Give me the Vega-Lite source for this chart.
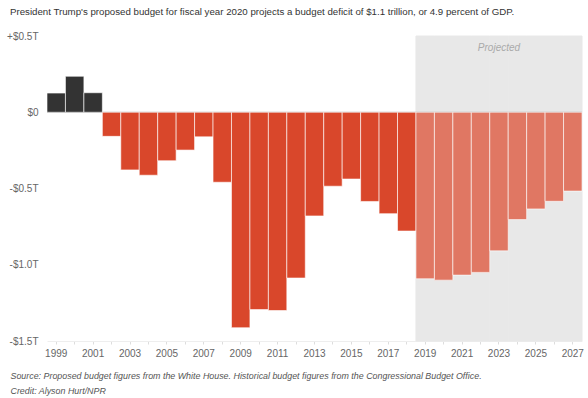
{
  "$schema": "https://vega.github.io/schema/vega-lite/v6.json",
  "width": 535,
  "height": 305,
  "autosize": {"type": "none"},
  "padding": {"left": 47, "top": 36, "right": 6, "bottom": 57},
  "background": "white",
  "config": {"font": "Liberation Sans", "view": {"stroke": null}},
  "title": {
    "text": "President Trump's proposed budget for fiscal year 2020 projects a budget deficit of $1.1 trillion, or 4.9 percent of GDP.",
    "anchor": "start",
    "frame": "group",
    "dx": -37,
    "offset": 6,
    "baseline": "alphabetic",
    "fontSize": 9.7,
    "fontWeight": "normal",
    "color": "#333333"
  },
  "data": {
    "values": [
      {"year": 1999, "value": 0.126, "type": "surplus"},
      {"year": 2000, "value": 0.236, "type": "surplus"},
      {"year": 2001, "value": 0.128, "type": "surplus"},
      {"year": 2002, "value": -0.158, "type": "deficit"},
      {"year": 2003, "value": -0.378, "type": "deficit"},
      {"year": 2004, "value": -0.413, "type": "deficit"},
      {"year": 2005, "value": -0.318, "type": "deficit"},
      {"year": 2006, "value": -0.248, "type": "deficit"},
      {"year": 2007, "value": -0.161, "type": "deficit"},
      {"year": 2008, "value": -0.459, "type": "deficit"},
      {"year": 2009, "value": -1.413, "type": "deficit"},
      {"year": 2010, "value": -1.294, "type": "deficit"},
      {"year": 2011, "value": -1.300, "type": "deficit"},
      {"year": 2012, "value": -1.087, "type": "deficit"},
      {"year": 2013, "value": -0.680, "type": "deficit"},
      {"year": 2014, "value": -0.485, "type": "deficit"},
      {"year": 2015, "value": -0.438, "type": "deficit"},
      {"year": 2016, "value": -0.585, "type": "deficit"},
      {"year": 2017, "value": -0.665, "type": "deficit"},
      {"year": 2018, "value": -0.779, "type": "deficit"},
      {"year": 2019, "value": -1.092, "type": "projected"},
      {"year": 2020, "value": -1.101, "type": "projected"},
      {"year": 2021, "value": -1.068, "type": "projected"},
      {"year": 2022, "value": -1.050, "type": "projected"},
      {"year": 2023, "value": -0.909, "type": "projected"},
      {"year": 2024, "value": -0.704, "type": "projected"},
      {"year": 2025, "value": -0.634, "type": "projected"},
      {"year": 2026, "value": -0.584, "type": "projected"},
      {"year": 2027, "value": -0.517, "type": "projected"}
    ]
  },
  "encoding": {
    "x": {
      "field": "year",
      "type": "ordinal",
      "scale": {"paddingInner": 0, "paddingOuter": 0},
      "axis": {
        "labelExpr": "datum.value % 2 == 1 ? datum.label : ''",
        "labelAngle": 0,
        "labelFontSize": 10,
        "labelColor": "#666666",
        "labelPadding": 4,
        "tickColor": "#dddddd",
        "tickSize": 3,
        "domainColor": "#eeeeee",
        "grid": false,
        "title": ["Source: Proposed budget figures from the White House. Historical budget figures from the Congressional Budget Office.", "Credit: Alyson Hurt/NPR"],
        "titleFontStyle": "italic",
        "titleFontWeight": "normal",
        "titleFontSize": 8.9,
        "titleColor": "#555555",
        "titleAnchor": "start",
        "titleAlign": "left",
        "titleBaseline": "top",
        "titleX": -37,
        "titleY": 30,
        "titleLineHeight": 15
      }
    }
  },
  "layer": [
    {
      "transform": [{"filter": "datum.type == 'projected'"}],
      "mark": {"type": "bar", "color": "#e8e8e8", "stroke": "#e8e8e8", "strokeWidth": 1},
      "encoding": {
        "y": {
          "datum": 0.5,
          "type": "quantitative",
          "scale": {"domain": [-1.5, 0.5], "nice": false},
          "axis": {
            "values": [0.5, 0, -0.5, -1, -1.5],
            "labelExpr": "datum.value > 0 ? '+$' + format(datum.value, '.1f') + 'T' : (datum.value == 0 ? '$0' : '-$' + format(-datum.value, '.1f') + 'T')",
            "labelFontSize": 10,
            "labelColor": "#666666",
            "labelPadding": 9,
            "gridColor": "#f0f0f0",
            "domain": false,
            "ticks": false,
            "title": null
          }
        },
        "y2": {"datum": -1.5}
      }
    },
    {
      "transform": [{"filter": "datum.year == 1999"}],
      "mark": {"type": "rule", "color": "#aaaaaa", "strokeWidth": 1},
      "encoding": {"x": null, "y": {"datum": 0, "type": "quantitative"}}
    },
    {
      "mark": {"type": "bar", "stroke": "#ffffff", "strokeWidth": 1, "strokeOpacity": 0.6},
      "encoding": {
        "y": {"field": "value", "type": "quantitative"},
        "color": {
          "field": "type",
          "type": "nominal",
          "scale": {"domain": ["surplus", "deficit", "projected"], "range": ["#333333", "#d9472b", "#e07763"]},
          "legend": null
        }
      }
    },
    {
      "data": {"values": [{"year": 2023, "label": "Projected"}]},
      "mark": {"type": "text", "fontStyle": "italic", "fontSize": 10, "color": "#aaaaaa", "baseline": "middle", "dy": 12},
      "encoding": {
        "y": {"datum": 0.5, "type": "quantitative"},
        "text": {"field": "label"}
      }
    }
  ]
}
